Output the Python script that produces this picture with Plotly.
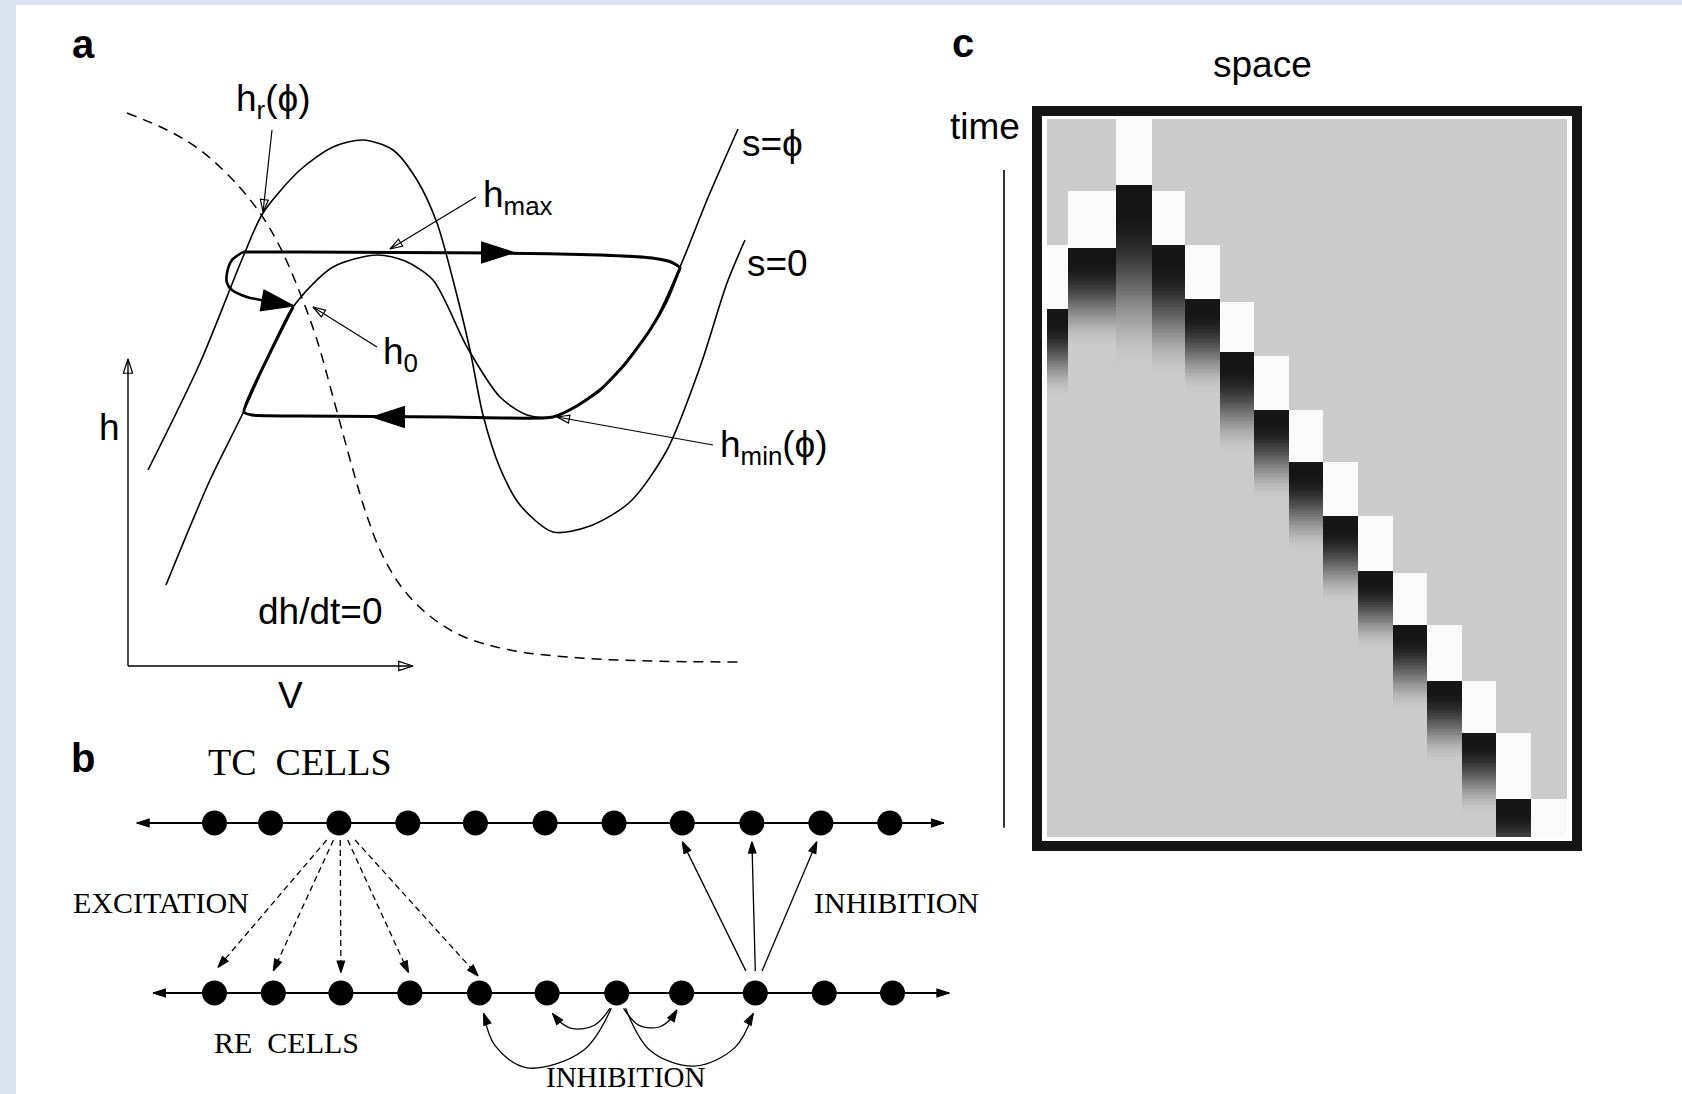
import numpy as np
import plotly.graph_objects as go

# ---------------- panel a : phase plane (V, h) ----------------
# h-nullcline dh/dt = 0 (dashed)
hnull_V = [-0.1, 3.9, 7.2, 10.5, 13.2, 15.2, 17.2, 18.9, 20.5, 22.5, 23.7, 25.2, 27.2, 29.7, 33.2, 38.2, 45.2, 52.2, 61.2]
hnull_h = [55.3, 53.6, 51.6, 48.6, 45.3, 41.9, 37.3, 32.6, 26.9, 19.6, 15.6, 11.6, 8.1, 5.4, 3.1, 1.6, 0.8, 0.5, 0.4]

# V-nullcline for s = 0
s0_V = [2.0, 7.2, 11.5, 13.5, 17.2, 20.5, 23.5, 26.5, 28.9, 30.9, 32.5, 34.2, 35.5, 37.2, 39.2, 42.5, 46.2, 50.2, 53.9, 57.2, 59.9, 61.7]
s0_h = [19.6, 30.3, 40.9, 45.3, 49.6, 51.9, 52.6, 51.6, 48.6, 44.3, 38.6, 31.6, 25.1, 19.8, 16.1, 13.4, 14.0, 16.4, 21.6, 29.9, 38.3, 42.6]

# V-nullcline for s = phi
sphi_V = [3.8, 8.2, 11.5, 14.0, 16.5, 20.5, 24.9, 27.7, 30.5, 33.9, 37.2, 39.9, 42.5, 47.2, 52.2, 55.2, 57.9, 61.0]
sphi_h = [8.1, 18.6, 25.3, 30.9, 35.9, 39.9, 41.1, 40.5, 38.6, 31.9, 26.9, 25.1, 24.9, 27.6, 33.6, 39.9, 46.6, 53.7]

# periodic trajectory (thick)
cycle_V = [11.5, 17.2, 27.0, 37.2, 47.2, 52.4, 54.3, 55.2, 55.0, 53.9, 52.2, 49.7, 47.2, 44.7, 42.5, 32.2, 17.2, 12.4, 11.6, 14.0, 16.5]
cycle_h = [41.4, 41.4, 41.35, 41.3, 41.1, 40.8, 40.4, 39.8, 39.3, 36.6, 33.6, 30.2, 27.6, 25.9, 24.9, 24.9, 25.0, 25.1, 25.4, 30.9, 35.9]

# short loop entering the lower branch at h0
loop_V = [11.5, 10.4, 9.9, 9.9, 10.4, 11.9, 13.9, 16.5]
loop_h = [41.4, 40.6, 39.3, 38.3, 37.6, 36.9, 36.5, 36.0]

# direction heads on the trajectory: (from, tip)
flow_heads = [((35.0, 41.35), (38.6, 41.35)), ((28.0, 24.9), (24.4, 24.9)), ((13.2, 36.6), (16.6, 36.0))]

# axes of the phase plane
h_axis = ([0.0, 0.0], [0.0, 30.7])
V_axis = ([0.0, 28.5], [0.0, 0.0])

# pointer arrows: label -> point
pointers = {
    "hr":   ([14.4, 13.5], [53.6, 45.4]),
    "hmax": ([34.8, 26.2], [46.9, 41.7]),
    "h0":   ([24.9, 18.5], [31.9, 35.9]),
    "hmin": ([58.5, 42.9], [22.1, 24.9]),
}

# text labels: (text, V, h, xanchor)
a_labels = [
    ("h<sub>r</sub>(ϕ)", 14.5, 56.5, "center"),
    ("h<sub>max</sub>", 35.3, 46.9, "left"),
    ("h<sub>0</sub>", 25.3, 31.2, "left"),
    ("h<sub>min</sub>(ϕ)", 59.0, 21.9, "left"),
    ("s=ϕ", 61.2, 52.3, "left"),
    ("s=0", 61.7, 40.3, "left"),
    ("dh/dt=0", 19.2, 5.5, "center"),
    ("h", -1.9, 23.9, "center"),
    ("V", 16.2, -2.9, "center"),
]

# ---------------- panel b : network ----------------
tc_cells = [1.0, 1.83, 2.84, 3.86, 4.86, 5.89, 6.91, 7.92, 8.95, 9.97, 10.99]
re_cells = [1.0, 1.87, 2.87, 3.89, 4.92, 5.92, 6.95, 7.91, 9.0, 10.02, 11.03]
tc_row = ([-0.15, 11.79], 1.0)
re_row = ([0.09, 11.87], 0.0)

# TC cell 3 -> RE cells 1..5 (dashed)
exc_x0 = [2.66, 2.76, 2.86, 2.97, 3.08]
exc_x1 = [1.05, 1.87, 2.87, 3.87, 4.90]
exc_y0 = [0.90, 0.90, 0.90, 0.90, 0.90]
exc_y1 = [0.15, 0.13, 0.12, 0.12, 0.10]

# RE cell 9 -> TC cells 8..10
inh_x0 = [8.86, 9.0, 9.10]
inh_x1 = [7.92, 8.95, 9.91]
inh_y0 = [0.13, 0.13, 0.13]
inh_y1 = [0.89, 0.89, 0.89]

# RE cell 7 -> RE cells 5, 6, 8, 9 (curved)
re_arcs = [
    ([6.87, 6.45, 5.62, 5.15, 4.98], [-0.09, -0.34, -0.44, -0.31, -0.12]),
    ([6.85, 6.62, 6.30, 6.08, 6.00], [-0.09, -0.19, -0.21, -0.16, -0.12]),
    ([7.05, 7.28, 7.58, 7.78, 7.84], [-0.09, -0.19, -0.20, -0.14, -0.10]),
    ([7.08, 7.45, 8.10, 8.70, 8.97], [-0.09, -0.34, -0.43, -0.32, -0.12]),
]

b_labels = [
    ("TC\u00a0\u00a0CELLS", 2.265, 1.359, 38),
    ("EXCITATION", 0.208, 0.535, 30),
    ("INHIBITION", 11.096, 0.535, 30),
    ("RE\u00a0\u00a0CELLS", 2.058, -0.294, 30),
    ("INHIBITION", 7.087, -0.495, 29),
]

# ---------------- panel c : space-time raster ----------------
space_edges = [0, 0.6, 2.0, 3.05, 4, 5, 6, 7, 8, 9, 10, 11, 12, 13, 14, 15.05]
white_start = [17.5, 10.0, 0.0, 10.0, 17.5, 25.4, 32.9, 40.4, 47.8, 55.3, 63.2, 70.4, 78.2, 85.4, 94.7]
dark_start = [26.5, 17.9, 9.3, 17.5, 25.0, 32.6, 40.4, 47.8, 55.3, 62.9, 70.4, 78.2, 85.4, 94.7, 101.0]
fade_end = [38.9, 31.8, 34.7, 36.0, 38.3, 46.8, 53.2, 60.4, 67.6, 74.0, 82.5, 89.7, 96.9, 107.0, 102.0]
time_line = ([-1.245, -1.245], [7.1, 98.7])

GRAY, WHITE, DARK = 203.0, 250.0, 22.0
t_edges = np.linspace(0, 100, 401)
t_mid = 0.5 * (t_edges[:-1] + t_edges[1:])
z = np.full((t_mid.size, len(white_start)), GRAY)
for j in range(len(white_start)):
    w0, d0, f1 = white_start[j], dark_start[j], fade_end[j]
    z[(t_mid >= w0) & (t_mid < d0), j] = WHITE
    dk = (t_mid >= d0) & (t_mid < f1)
    frac = np.clip(((t_mid[dk] - d0) / (f1 - d0) - 0.15) / 0.85, 0, 1)
    z[dk, j] = DARK + (GRAY - DARK) * (frac * frac * (3 - 2 * frac))

SANS = "Liberation Sans, Arial, sans-serif"
SERIF = "Liberation Serif, Times New Roman, serif"
BOLD = "Liberation Sans, Arial, sans-serif"
INK = "#000000"

fig = go.Figure()


def line(xa, ya, xs, ys, width=1.5, dash=None, shape="linear", smoothing=1.0):
    fig.add_trace(go.Scatter(
        x=xs, y=ys, mode="lines", xaxis=xa, yaxis=ya, hoverinfo="skip", showlegend=False,
        line=dict(color=INK, width=width, dash=dash, shape=shape, smoothing=smoothing)))


def arrow(xa, ya, xs, ys, size, symbol="arrow", width=1.3, dash=None, shape="linear", with_line=True):
    fig.add_trace(go.Scatter(
        x=xs, y=ys, mode="lines+markers" if with_line else "markers",
        xaxis=xa, yaxis=ya, hoverinfo="skip", showlegend=False, cliponaxis=False,
        line=dict(color=INK, width=width, dash=dash, shape=shape),
        marker=dict(symbol=symbol, size=[0] * (len(xs) - 1) + [size], angleref="previous",
                    color=INK, opacity=1, line=dict(color=INK, width=1.2))))


# panel a
line("x", "y", hnull_V, hnull_h, width=1.5, dash="10px,7px", shape="spline")
line("x", "y", s0_V, s0_h, width=1.6, shape="spline", smoothing=0.8)
line("x", "y", sphi_V, sphi_h, width=1.6, shape="spline", smoothing=0.8)
line("x", "y", cycle_V, cycle_h, width=3.0, shape="spline", smoothing=0.6)
line("x", "y", loop_V, loop_h, width=2.6, shape="spline", smoothing=0.8)
for (p0, p1) in flow_heads:
    arrow("x", "y", [p0[0], p1[0]], [p0[1], p1[1]], 34, with_line=False)
arrow("x", "y", h_axis[0], h_axis[1], 15, symbol="arrow-open", width=1.4)
arrow("x", "y", V_axis[0], V_axis[1], 15, symbol="arrow-open", width=1.4)
for key, (px, py) in pointers.items():
    arrow("x", "y", px, py, 13, symbol="arrow-open", width=1.2)

# panel b
for row, xs in ((tc_row, tc_cells), (re_row, re_cells)):
    (x0, x1), yv = row
    line("x2", "y2", [x0, x1], [yv, yv], width=2.0)
    arrow("x2", "y2", [x0 + 0.5, x0], [yv, yv], 13, with_line=False)
    arrow("x2", "y2", [x1 - 0.5, x1], [yv, yv], 13, with_line=False)
    fig.add_trace(go.Scatter(x=xs, y=[yv] * len(xs), mode="markers", xaxis="x2", yaxis="y2",
                             hoverinfo="skip", showlegend=False,
                             marker=dict(symbol="circle", size=25, color=INK)))
for i in range(len(exc_x0)):
    arrow("x2", "y2", [exc_x0[i], exc_x1[i]], [exc_y0[i], exc_y1[i]], 12, width=1.3, dash="6px,4px")
for i in range(len(inh_x0)):
    arrow("x2", "y2", [inh_x0[i], inh_x1[i]], [inh_y0[i], inh_y1[i]], 12, width=1.3)
for xs, ys in re_arcs:
    arrow("x2", "y2", xs, ys, 12, width=1.3, shape="spline")

# panel c
line("x3", "y3", time_line[0], time_line[1], width=1.6)
fig.add_trace(go.Scatter(x=[0], y=[0], mode="markers", xaxis="x4", yaxis="y4",
                         marker=dict(size=0, opacity=0), hoverinfo="skip", showlegend=False))
fig.add_trace(go.Heatmap(z=z, x=space_edges, y=t_edges, xaxis="x5", yaxis="y5",
                         colorscale=[[0, "rgb(0,0,0)"], [1, "rgb(255,255,255)"]],
                         zmin=0, zmax=255, showscale=False, hoverinfo="skip"))

ann = []
for text, vx, vy, xa in a_labels:
    ann.append(dict(text=text, x=vx, y=vy, xref="x", yref="y", xanchor=xa, yanchor="middle",
                    showarrow=False, font=dict(family=SANS, size=37, color=INK)))
ann.append(dict(text="<b>a</b>", x=-4.5, y=62.2, xref="x", yref="y", showarrow=False,
                font=dict(family=BOLD, size=40, color=INK)))
ann.append(dict(text="<b>b</b>", x=-0.945, y=1.382, xref="x2", yref="y2", showarrow=False,
                font=dict(family=BOLD, size=40, color=INK)))
for text, bx, by, fs in b_labels:
    ann.append(dict(text=text, x=bx, y=by, xref="x2", yref="y2", showarrow=False,
                    font=dict(family=SERIF, size=fs, color=INK)))
ann.append(dict(text="<b>c</b>", x=-2.43, y=-10.6, xref="x3", yref="y3", showarrow=False,
                font=dict(family=BOLD, size=40, color=INK)))
ann.append(dict(text="space", x=6.25, y=-7.66, xref="x3", yref="y3", showarrow=False,
                font=dict(family=SANS, size=37, color=INK)))
ann.append(dict(text="time", x=-1.79, y=1.1, xref="x3", yref="y3", showarrow=False,
                font=dict(family=SANS, size=37, color=INK)))

hidden = dict(visible=False, fixedrange=True)
fig.update_layout(
    width=1682, height=1094, autosize=False,
    margin=dict(l=0, r=0, t=0, b=0, pad=0),
    paper_bgcolor="white", plot_bgcolor="rgba(0,0,0,0)",
    showlegend=False, annotations=ann,
    xaxis=dict(domain=[0, 1], range=[-12.8, 155.4], **hidden),
    yaxis=dict(domain=[0, 1], range=[-42.8, 66.6], **hidden),
    xaxis2=dict(domain=[0, 1], range=[-2.1731, 22.7086], anchor="y2", **hidden),
    yaxis2=dict(domain=[0, 1], range=[-0.5941, 5.8412], anchor="x2", **hidden),
    xaxis3=dict(domain=[0, 1], range=[-30.304, 18.379], anchor="y3", **hidden),
    yaxis3=dict(domain=[0, 1], range=[135.794, -16.574], anchor="x3", **hidden),
    xaxis4=dict(domain=[1042 / 1682, 1572 / 1682], range=[0, 1], anchor="y4", showline=True, mirror=True,
                linewidth=10, linecolor="#141414", showgrid=False, zeroline=False,
                showticklabels=False, ticks="", fixedrange=True),
    yaxis4=dict(domain=[1 - 841 / 1094, 1 - 116 / 1094], range=[0, 1], anchor="x4", showline=True, mirror=True,
                linewidth=10, linecolor="#141414", showgrid=False, zeroline=False,
                showticklabels=False, ticks="", fixedrange=True),
    xaxis5=dict(domain=[1047 / 1682, 1567 / 1682], range=[0, 15.05], anchor="y5", **hidden),
    yaxis5=dict(domain=[1 - 837 / 1094, 1 - 119 / 1094], range=[100, 0], anchor="x5", **hidden),
    shapes=[
        dict(type="rect", xref="paper", yref="paper", x0=0, x1=16 / 1682, y0=0, y1=1,
             fillcolor="#d9e2ee", line=dict(width=0), layer="below"),
        dict(type="rect", xref="paper", yref="paper", x0=0, x1=1, y0=1 - 5 / 1094, y1=1,
             fillcolor="#d9e2ee", line=dict(width=0), layer="below"),
    ],
)

fig.write_html("out.html", config={"displayModeBar": False, "staticPlot": True})
